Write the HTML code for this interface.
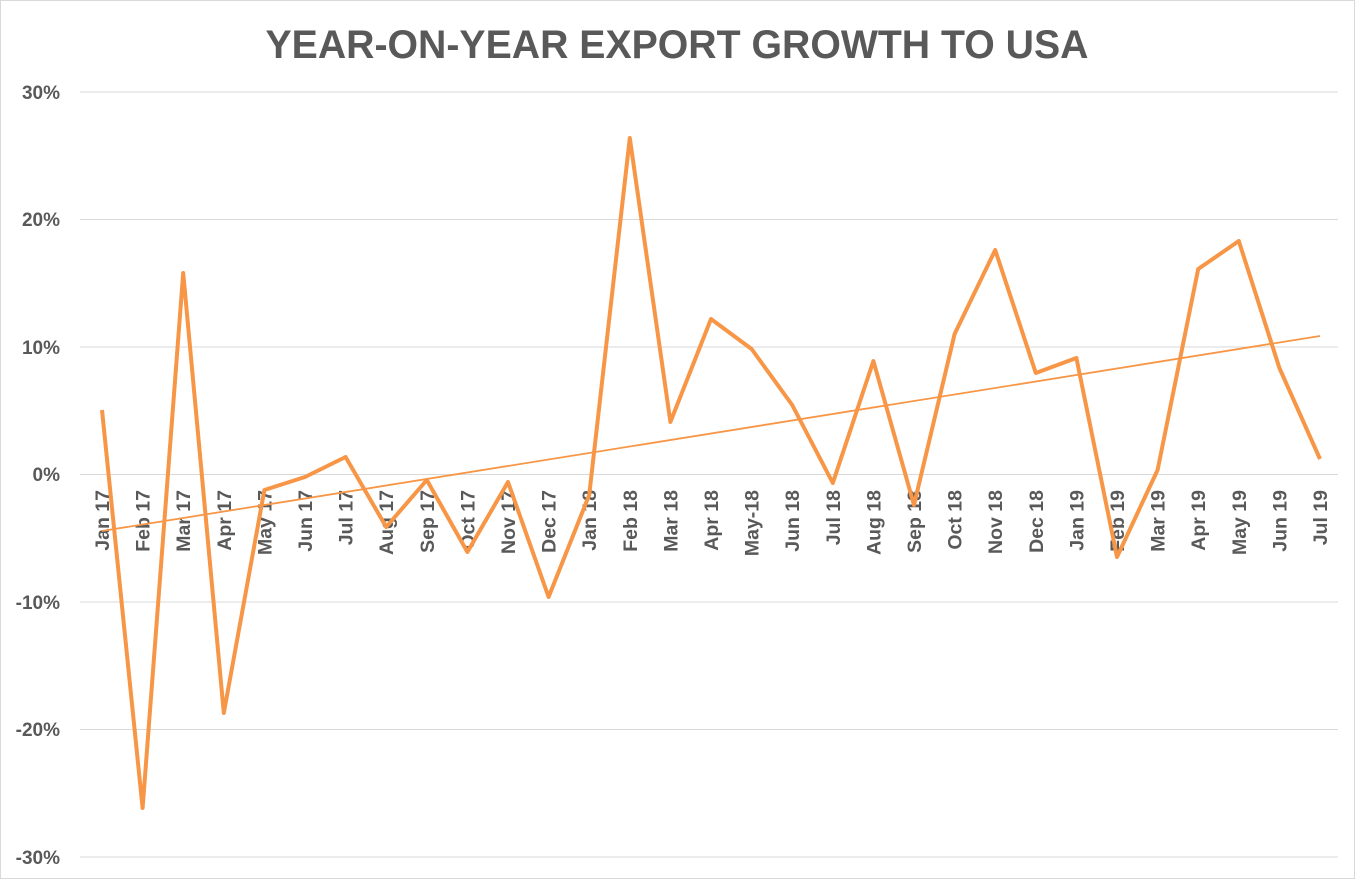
<!DOCTYPE html>
<html><head><meta charset="utf-8"><style>
html,body{margin:0;padding:0;background:#fff;}
svg{display:block;font-family:"Liberation Sans",sans-serif;}
</style></head><body>
<svg width="1355" height="879" viewBox="0 0 1355 879">
<rect x="0.5" y="0.5" width="1354" height="878" fill="#fff" stroke="#d9d9d9"/>
<text x="677" y="58" text-anchor="middle" font-size="40" font-weight="bold" fill="#595959" textLength="823" lengthAdjust="spacingAndGlyphs">YEAR-ON-YEAR EXPORT GROWTH TO USA</text>
<g stroke="#d9d9d9" stroke-width="1">
<line x1="80" x2="1338" y1="92" y2="92"/><line x1="80" x2="1338" y1="219.5" y2="219.5"/>
<line x1="80" x2="1338" y1="347" y2="347"/><line x1="80" x2="1338" y1="474.5" y2="474.5"/>
<line x1="80" x2="1338" y1="602" y2="602"/><line x1="80" x2="1338" y1="729.5" y2="729.5"/>
<line x1="80" x2="1338" y1="857" y2="857"/>
</g>
<g font-size="19" font-weight="bold" fill="#595959" text-anchor="end">
<text x="60" y="99">30%</text><text x="60" y="226">20%</text><text x="60" y="354">10%</text>
<text x="60" y="481">0%</text><text x="60" y="609">-10%</text><text x="60" y="736">-20%</text><text x="60" y="864">-30%</text>
</g>
<g font-size="19.5" font-weight="bold" fill="#595959" text-anchor="end">
<text transform="translate(109,490) rotate(-90)">Jan 17</text>
<text transform="translate(149.6,490) rotate(-90)">Feb 17</text>
<text transform="translate(190.2,490) rotate(-90)">Mar 17</text>
<text transform="translate(230.8,490) rotate(-90)">Apr 17</text>
<text transform="translate(271.4,490) rotate(-90)">May 17</text>
<text transform="translate(312,490) rotate(-90)">Jun 17</text>
<text transform="translate(352.6,490) rotate(-90)">Jul 17</text>
<text transform="translate(393.2,490) rotate(-90)">Aug 17</text>
<text transform="translate(433.8,490) rotate(-90)">Sep 17</text>
<text transform="translate(474.4,490) rotate(-90)">Oct 17</text>
<text transform="translate(515,490) rotate(-90)">Nov 17</text>
<text transform="translate(555.6,490) rotate(-90)">Dec 17</text>
<text transform="translate(596.2,490) rotate(-90)">Jan 18</text>
<text transform="translate(636.8,490) rotate(-90)">Feb 18</text>
<text transform="translate(677.4,490) rotate(-90)">Mar 18</text>
<text transform="translate(718,490) rotate(-90)">Apr 18</text>
<text transform="translate(758.6,490) rotate(-90)">May-18</text>
<text transform="translate(799.2,490) rotate(-90)">Jun 18</text>
<text transform="translate(839.8,490) rotate(-90)">Jul 18</text>
<text transform="translate(880.4,490) rotate(-90)">Aug 18</text>
<text transform="translate(921,490) rotate(-90)">Sep 18</text>
<text transform="translate(961.6,490) rotate(-90)">Oct 18</text>
<text transform="translate(1002.2,490) rotate(-90)">Nov 18</text>
<text transform="translate(1042.8,490) rotate(-90)">Dec 18</text>
<text transform="translate(1083.4,490) rotate(-90)">Jan 19</text>
<text transform="translate(1124,490) rotate(-90)">Feb 19</text>
<text transform="translate(1164.6,490) rotate(-90)">Mar 19</text>
<text transform="translate(1205.2,490) rotate(-90)">Apr 19</text>
<text transform="translate(1245.8,490) rotate(-90)">May 19</text>
<text transform="translate(1286.4,490) rotate(-90)">Jun 19</text>
<text transform="translate(1327,490) rotate(-90)">Jul 19</text>
</g>
<line x1="102" y1="531" x2="1320" y2="336" stroke="#f79646" stroke-width="1.8"/>
<polyline fill="none" stroke="#f79646" stroke-width="4" stroke-linejoin="round" points="102,410 142.6,808 183.2,273 223.8,713 264.4,490 305,477 345.6,457 386.2,527 426.8,480 467.4,552 508,482 548.6,597 589.2,495 629.8,138 670.4,422 711,319 751.6,349 792.2,405 832.8,483 873.4,361 914,505 954.6,334 995.2,250 1035.8,373 1076.4,358 1117,557 1157.6,470 1198.2,269 1238.8,241 1279.4,368 1320,459"/>
</svg>
</body></html>
